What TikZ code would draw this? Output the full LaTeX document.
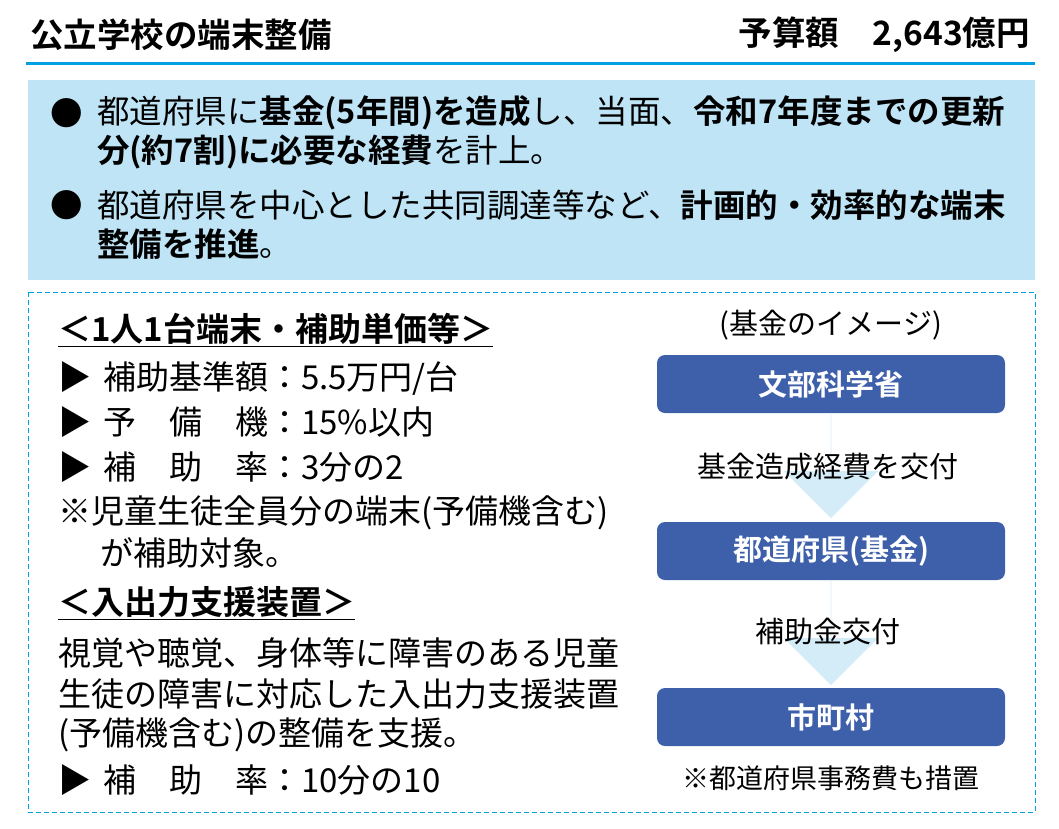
\documentclass[tikz,border=0pt]{standalone}
\usepackage{fontspec}
\setmainfont{Noto Sans CJK JP}[BoldFont={Noto Sans CJK JP Bold}]
\usetikzlibrary{positioning,shapes.arrows}
\definecolor{hdblue}{RGB}{0,160,225}
\definecolor{paleblue}{RGB}{190,228,246}
\definecolor{boxblue}{RGB}{62,96,170}
\definecolor{arrblue}{RGB}{212,235,248}
\tikzset{
  txt/.style={anchor=west, inner sep=0pt, font=\fontsize{33}{36}\selectfont},
  sumtxt/.style={anchor=west, inner sep=0pt, font=\fontsize{32.5}{36}\selectfont},
  step box/.style={fill=boxblue, rounded corners=8pt, minimum width=348pt, minimum height=58pt, text=white, font=\fontsize{29}{32}\selectfont\bfseries},
  flow/.style={single arrow, fill=arrblue, minimum width=94pt, minimum height=104pt, single arrow head extend=23.5pt, single arrow tip angle=90, shape border rotate=270, inner sep=0pt},
  flowlab/.style={font=\fontsize{29}{32}\selectfont, inner sep=0pt}
}
\newcommand{\tri}{▶\hspace{12pt}}
\begin{document}
\begin{tikzpicture}[x=1pt, y=-1pt]
  \useasboundingbox (0,0) rectangle (1059,828);
  % Header
  \node[anchor=west, inner sep=0pt, font=\fontsize{33.5}{36}\selectfont\bfseries] (title) at (30,35) {公立学校の端末整備};
  \node[anchor=east, inner sep=0pt, font=\fontsize{33.5}{36}\selectfont\bfseries] (budget) at (1030,35) {予算額\quad 2,643億円};
  \draw[hdblue, line width=3pt] (26,63) -- (1035,63);

  % Summary box
  \fill[paleblue] (28,80) rectangle (1035,280);
  \node[sumtxt] (dot1) at (50,113) {●};
  \node[sumtxt] (sum1a) at (97,113) {都道府県に\textbf{基金(5年間)を造成}し、当面、\textbf{令和7年度までの更新}};
  \node[sumtxt] (sum1b) at (97,152) {\textbf{分(約7割)に必要な経費}を計上。};
  \node[sumtxt] (dot2) at (50,205) {●};
  \node[sumtxt] (sum2a) at (97,205) {都道府県を中心とした共同調達等など、\textbf{計画的・効率的な端末}};
  \node[sumtxt] (sum2b) at (97,244) {\textbf{整備を推進}。};

  % Detail box
  \draw[hdblue, dash pattern=on 5pt off 3pt, line width=1pt] (28,292) rectangle (1035,812);
  \node[txt, font=\fontsize{33}{36}\selectfont\bfseries] (head1) at (58,330) {\underline{＜1人1台端末・補助単価等＞}};
  \node[txt] (item1) at (58,378) {\tri 補助基準額：5.5万円/台};
  \node[txt] (item2) at (58,422) {\tri 予\quad 備\quad 機：15\%以内};
  \node[txt] (item3) at (58,467) {\tri 補\quad 助\quad 率：3分の2};
  \node[txt] (note1) at (58,513) {※児童生徒全員分の端末(予備機含む)};
  \node[txt] (note2) at (100,553) {が補助対象。};
  \node[txt, font=\fontsize{33}{36}\selectfont\bfseries] (head2) at (58,603) {\underline{＜入出力支援装置＞}};
  \node[txt] (desc1) at (58,653) {視覚や聴覚、身体等に障害のある児童};
  \node[txt] (desc2) at (58,694) {生徒の障害に対応した入出力支援装置};
  \node[txt] (desc3) at (58,735) {(予備機含む)の整備を支援。};
  \node[txt] (item4) at (58,780) {\tri 補\quad 助\quad 率：10分の10};

  % Fund flow
  \node[flow] (arr1) at (831,466) {};
  \node[flow] (arr2) at (831,633) {};
  \node[flowlab] (image) at (831,325) {(基金のイメージ)};
  \node[step box] (mext) at (831,384) {文部科学省};
  \node[step box] (pref) at (831,551) {都道府県(基金)};
  \node[step box] (city) at (831,717) {市町村};
  \node[flowlab] (lab1) at (828,467) {基金造成経費を交付};
  \node[flowlab] (lab2) at (828,632) {補助金交付};
  \node[flowlab, font=\fontsize{27}{30}\selectfont] (note3) at (831,778) {※都道府県事務費も措置};
\end{tikzpicture}
\end{document}
